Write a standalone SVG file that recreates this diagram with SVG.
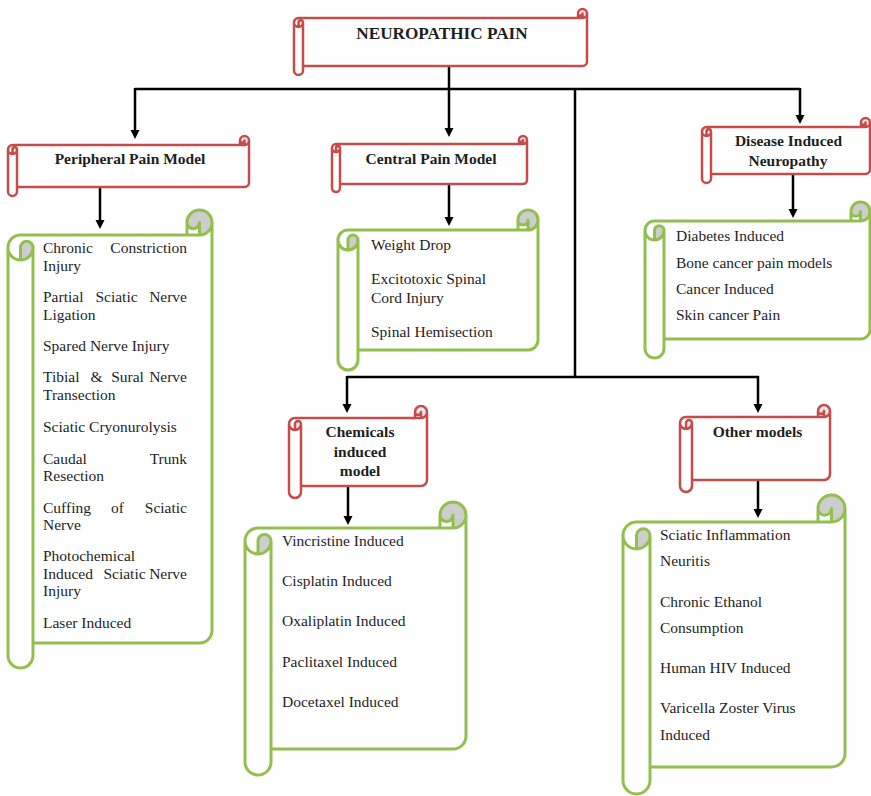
<svg xmlns="http://www.w3.org/2000/svg" width="871" height="796" viewBox="0 0 871 796">
<style>
.bg{fill:#ffffff}
.fw{fill:#ffffff;stroke:none}
.grr{fill:#f2e6e6;stroke:none}
.grg{fill:#cdcdcd;stroke:none}
.sr{fill:none;stroke:#C64B4B;stroke-width:2.5;stroke-linejoin:round}
.sg{fill:none;stroke:#92BF4E;stroke-width:3;stroke-linejoin:round}
.conn{fill:none;stroke:#000000;stroke-width:2.5}
.h{font-family:"Liberation Serif","Times New Roman",serif;font-weight:bold;font-size:15.5px;fill:#1e1e1e;text-anchor:middle}
.t{font-family:"Liberation Serif","Times New Roman",serif;font-size:15.5px;fill:#1e1e1e}
.m{text-anchor:middle}
.e{text-anchor:end}
</style>
<defs>
<marker id="arr" markerUnits="userSpaceOnUse" markerWidth="10" markerHeight="10" refX="3" refY="4.5" orient="auto">
<path d="M0,0 L9,4.5 L0,9 Z" fill="#000000"/>
</marker>
</defs>
<rect class="bg" x="0" y="0" width="871" height="796"/>

<g id="connectors">
<path class="conn" d="M449,66 L449,131" marker-end="url(#arr)"/>
<path class="conn" d="M135,89 L800,89"/>
<path class="conn" d="M135,88 L135,133" marker-end="url(#arr)"/>
<path class="conn" d="M800,88 L800,118" marker-end="url(#arr)"/>
<path class="conn" d="M575,89 L575,377"/>
<path class="conn" d="M347,377 L759,377"/>
<path class="conn" d="M347,376 L347,407" marker-end="url(#arr)"/>
<path class="conn" d="M758,376 L758,407" marker-end="url(#arr)"/>
<path class="conn" d="M100,187 L100,223" marker-end="url(#arr)"/>
<path class="conn" d="M449,184 L449,220" marker-end="url(#arr)"/>
<path class="conn" d="M793,174 L793,212" marker-end="url(#arr)"/>
<path class="conn" d="M348,486 L348,519" marker-end="url(#arr)"/>
<path class="conn" d="M758,480 L758,512" marker-end="url(#arr)"/>
</g>

<g id="neuropathic-pain" transform="translate(294,9)">
<path class="fw" d="M0,13.5 A4.5,4.5 0 0 1 4.5,9 L284,9 L284,4.5 A4.5,4.5 0 0 1 293,4.5 L293,52.5 A4.5,4.5 0 0 1 288.5,57 L9,57 L9,61.5 A4.5,4.5 0 0 1 0,61.5 Z"/>
<path class="grr" d="M4.5,18 A4.5,4.5 0 0 0 9,13.5 A2.25,2.25 0 0 0 4.5,13.5 Z M288.5,9 A4.5,4.5 0 1 0 284,4.5 A2.25,2.25 0 0 0 288.5,4.5 Z"/>
<path class="sr" d="M0,13.5 A4.5,4.5 0 0 1 4.5,9 L284,9 L284,4.5 A4.5,4.5 0 0 1 293,4.5 L293,52.5 A4.5,4.5 0 0 1 288.5,57 L9,57 L9,61.5 A4.5,4.5 0 0 1 0,61.5 Z M284,9 L288.5,9 A4.5,4.5 0 0 0 293,4.5 M288.5,9 L288.5,4.5 A2.25,2.25 0 0 1 284,4.5 M4.5,18 L4.5,13.5 A2.25,2.25 0 0 1 9,13.5 A4.5,4.5 0 0 1 0,13.5 M9,13.5 L9,57"/>
<text class="h" x="148" y="29.5" style="font-size:17.2px">NEUROPATHIC PAIN</text>
</g>

<g id="peripheral-pain-model" transform="translate(8,136)">
<path class="fw" d="M0,13.5 A4.5,4.5 0 0 1 4.5,9 L232,9 L232,4.5 A4.5,4.5 0 0 1 241,4.5 L241,46.5 A4.5,4.5 0 0 1 236.5,51 L9,51 L9,55.5 A4.5,4.5 0 0 1 0,55.5 Z"/>
<path class="grr" d="M4.5,18 A4.5,4.5 0 0 0 9,13.5 A2.25,2.25 0 0 0 4.5,13.5 Z M236.5,9 A4.5,4.5 0 1 0 232,4.5 A2.25,2.25 0 0 0 236.5,4.5 Z"/>
<path class="sr" d="M0,13.5 A4.5,4.5 0 0 1 4.5,9 L232,9 L232,4.5 A4.5,4.5 0 0 1 241,4.5 L241,46.5 A4.5,4.5 0 0 1 236.5,51 L9,51 L9,55.5 A4.5,4.5 0 0 1 0,55.5 Z M232,9 L236.5,9 A4.5,4.5 0 0 0 241,4.5 M236.5,9 L236.5,4.5 A2.25,2.25 0 0 1 232,4.5 M4.5,18 L4.5,13.5 A2.25,2.25 0 0 1 9,13.5 A4.5,4.5 0 0 1 0,13.5 M9,13.5 L9,51"/>
<text class="h" x="122" y="28">Peripheral Pain Model</text>
</g>

<g id="central-pain-model" transform="translate(332,136)">
<path class="fw" d="M0,12 A4,4 0 0 1 4,8 L187,8 L187,4 A4,4 0 0 1 195,4 L195,44 A4,4 0 0 1 191,48 L8,48 L8,52 A4,4 0 0 1 0,52 Z"/>
<path class="grr" d="M4,16 A4,4 0 0 0 8,12 A2,2 0 0 0 4,12 Z M191,8 A4,4 0 1 0 187,4 A2,2 0 0 0 191,4 Z"/>
<path class="sr" d="M0,12 A4,4 0 0 1 4,8 L187,8 L187,4 A4,4 0 0 1 195,4 L195,44 A4,4 0 0 1 191,48 L8,48 L8,52 A4,4 0 0 1 0,52 Z M187,8 L191,8 A4,4 0 0 0 195,4 M191,8 L191,4 A2,2 0 0 1 187,4 M4,16 L4,12 A2,2 0 0 1 8,12 A4,4 0 0 1 0,12 M8,12 L8,48"/>
<text class="h" x="99" y="27.5">Central Pain Model</text>
</g>

<g id="disease-induced-neuropathy" transform="translate(702,118)">
<path class="fw" d="M0,13.5 A4.5,4.5 0 0 1 4.5,9 L159,9 L159,4.5 A4.5,4.5 0 0 1 168,4.5 L168,51.5 A4.5,4.5 0 0 1 163.5,56 L9,56 L9,60.5 A4.5,4.5 0 0 1 0,60.5 Z"/>
<path class="grr" d="M4.5,18 A4.5,4.5 0 0 0 9,13.5 A2.25,2.25 0 0 0 4.5,13.5 Z M163.5,9 A4.5,4.5 0 1 0 159,4.5 A2.25,2.25 0 0 0 163.5,4.5 Z"/>
<path class="sr" d="M0,13.5 A4.5,4.5 0 0 1 4.5,9 L159,9 L159,4.5 A4.5,4.5 0 0 1 168,4.5 L168,51.5 A4.5,4.5 0 0 1 163.5,56 L9,56 L9,60.5 A4.5,4.5 0 0 1 0,60.5 Z M159,9 L163.5,9 A4.5,4.5 0 0 0 168,4.5 M163.5,9 L163.5,4.5 A2.25,2.25 0 0 1 159,4.5 M4.5,18 L4.5,13.5 A2.25,2.25 0 0 1 9,13.5 A4.5,4.5 0 0 1 0,13.5 M9,13.5 L9,56"/>
<text class="h" x="86.5" y="28">Disease Induced</text>
<text class="h" x="86" y="48">Neuropathy</text>
</g>

<g id="chemicals-induced-model" transform="translate(289,406)">
<path class="fw" d="M0,18 A6,6 0 0 1 6,12 L126,12 L126,6 A6,6 0 0 1 138,6 L138,74 A6,6 0 0 1 132,80 L12,80 L12,86 A6,6 0 0 1 0,86 Z"/>
<path class="grr" d="M6,24 A6,6 0 0 0 12,18 A3,3 0 0 0 6,18 Z M132,12 A6,6 0 1 0 126,6 A3,3 0 0 0 132,6 Z"/>
<path class="sr" d="M0,18 A6,6 0 0 1 6,12 L126,12 L126,6 A6,6 0 0 1 138,6 L138,74 A6,6 0 0 1 132,80 L12,80 L12,86 A6,6 0 0 1 0,86 Z M126,12 L132,12 A6,6 0 0 0 138,6 M132,12 L132,6 A3,3 0 0 1 126,6 M6,24 L6,18 A3,3 0 0 1 12,18 A6,6 0 0 1 0,18 M12,18 L12,80"/>
<text class="h" x="71" y="31">Chemicals</text>
<text class="h" x="71" y="51">induced</text>
<text class="h" x="71" y="70">model</text>
</g>

<g id="other-models" transform="translate(680,405)">
<path class="fw" d="M0,18 A6,6 0 0 1 6,12 L138,12 L138,6 A6,6 0 0 1 150,6 L150,69 A6,6 0 0 1 144,75 L12,75 L12,81 A6,6 0 0 1 0,81 Z"/>
<path class="grr" d="M6,24 A6,6 0 0 0 12,18 A3,3 0 0 0 6,18 Z M144,12 A6,6 0 1 0 138,6 A3,3 0 0 0 144,6 Z"/>
<path class="sr" d="M0,18 A6,6 0 0 1 6,12 L138,12 L138,6 A6,6 0 0 1 150,6 L150,69 A6,6 0 0 1 144,75 L12,75 L12,81 A6,6 0 0 1 0,81 Z M138,12 L144,12 A6,6 0 0 0 150,6 M144,12 L144,6 A3,3 0 0 1 138,6 M6,24 L6,18 A3,3 0 0 1 12,18 A6,6 0 0 1 0,18 M12,18 L12,75"/>
<text class="h" x="77.5" y="31.5">Other models</text>
</g>

<g id="peripheral-list" transform="translate(8,210)">
<path class="fw" d="M0,37.5 A12.5,12.5 0 0 1 12.5,25 L179,25 L179,12.5 A12.5,12.5 0 0 1 204,12.5 L204,420.5 A12.5,12.5 0 0 1 191.5,433 L25,433 L25,445.5 A12.5,12.5 0 0 1 0,445.5 Z"/>
<path class="grg" d="M12.5,50 A12.5,12.5 0 0 0 25,37.5 A6.25,6.25 0 0 0 12.5,37.5 Z M191.5,25 A12.5,12.5 0 1 0 179,12.5 A6.25,6.25 0 0 0 191.5,12.5 Z"/>
<path class="sg" d="M0,37.5 A12.5,12.5 0 0 1 12.5,25 L179,25 L179,12.5 A12.5,12.5 0 0 1 204,12.5 L204,420.5 A12.5,12.5 0 0 1 191.5,433 L25,433 L25,445.5 A12.5,12.5 0 0 1 0,445.5 Z M179,25 L191.5,25 A12.5,12.5 0 0 0 204,12.5 M191.5,25 L191.5,12.5 A6.25,6.25 0 0 1 179,12.5 M12.5,50 L12.5,37.5 A6.25,6.25 0 0 1 25,37.5 A12.5,12.5 0 0 1 0,37.5 M25,37.5 L25,433"/>
</g>
<g id="peripheral-list-text" class="t">
<text x="43" y="253">Chronic</text><text class="e" x="187" y="253">Constriction</text>
<text x="43" y="271">Injury</text>
<text x="43" y="302">Partial</text><text class="m" x="116.5" y="302">Sciatic</text><text class="e" x="187" y="302">Nerve</text>
<text x="43" y="320">Ligation</text>
<text x="43" y="351">Spared Nerve Injury</text>
<text x="43" y="382">Tibial</text><text class="m" x="96.5" y="382">&amp;</text><text class="m" x="127.5" y="382">Sural</text><text class="e" x="187" y="382">Nerve</text>
<text x="43" y="399.5">Transection</text>
<text x="43" y="432">Sciatic Cryonurolysis</text>
<text x="43" y="463.5">Caudal</text><text class="e" x="187" y="463.5">Trunk</text>
<text x="43" y="481">Resection</text>
<text x="43" y="513">Cuffing</text><text class="m" x="117.5" y="513">of</text><text class="e" x="187" y="513">Sciatic</text>
<text x="43" y="530">Nerve</text>
<text x="43" y="561">Photochemical</text>
<text x="43" y="579">Induced</text><text class="m" x="124.5" y="579">Sciatic</text><text class="e" x="187" y="579">Nerve</text>
<text x="43" y="596">Injury</text>
<text x="43" y="627.5">Laser Induced</text>
</g>

<g id="central-list" transform="translate(338,210)">
<path class="fw" d="M0,30 A10,10 0 0 1 10,20 L180,20 L180,10 A10,10 0 0 1 200,10 L200,130 A10,10 0 0 1 190,140 L20,140 L20,150 A10,10 0 0 1 0,150 Z"/>
<path class="grg" d="M10,40 A10,10 0 0 0 20,30 A5,5 0 0 0 10,30 Z M190,20 A10,10 0 1 0 180,10 A5,5 0 0 0 190,10 Z"/>
<path class="sg" d="M0,30 A10,10 0 0 1 10,20 L180,20 L180,10 A10,10 0 0 1 200,10 L200,130 A10,10 0 0 1 190,140 L20,140 L20,150 A10,10 0 0 1 0,150 Z M180,20 L190,20 A10,10 0 0 0 200,10 M190,20 L190,10 A5,5 0 0 1 180,10 M10,40 L10,30 A5,5 0 0 1 20,30 A10,10 0 0 1 0,30 M20,30 L20,140"/>
</g>
<g id="central-list-text" class="t">
<text x="371" y="250">Weight Drop</text>
<text x="371" y="284">Excitotoxic Spinal</text>
<text x="371" y="303">Cord Injury</text>
<text x="371" y="337">Spinal Hemisection</text>
</g>

<g id="disease-list" transform="translate(645,202)">
<path class="fw" d="M0,28.5 A9.5,9.5 0 0 1 9.5,19 L206,19 L206,9.5 A9.5,9.5 0 0 1 225,9.5 L225,127.5 A9.5,9.5 0 0 1 215.5,137 L19,137 L19,146.5 A9.5,9.5 0 0 1 0,146.5 Z"/>
<path class="grg" d="M9.5,38 A9.5,9.5 0 0 0 19,28.5 A4.75,4.75 0 0 0 9.5,28.5 Z M215.5,19 A9.5,9.5 0 1 0 206,9.5 A4.75,4.75 0 0 0 215.5,9.5 Z"/>
<path class="sg" d="M0,28.5 A9.5,9.5 0 0 1 9.5,19 L206,19 L206,9.5 A9.5,9.5 0 0 1 225,9.5 L225,127.5 A9.5,9.5 0 0 1 215.5,137 L19,137 L19,146.5 A9.5,9.5 0 0 1 0,146.5 Z M206,19 L215.5,19 A9.5,9.5 0 0 0 225,9.5 M215.5,19 L215.5,9.5 A4.75,4.75 0 0 1 206,9.5 M9.5,38 L9.5,28.5 A4.75,4.75 0 0 1 19,28.5 A9.5,9.5 0 0 1 0,28.5 M19,28.5 L19,137"/>
</g>
<g id="disease-list-text" class="t">
<text x="676" y="241">Diabetes Induced</text>
<text x="676" y="267.5">Bone cancer pain models</text>
<text x="676" y="293.5">Cancer Induced</text>
<text x="676" y="319.5">Skin cancer Pain</text>
</g>

<g id="chemicals-list" transform="translate(245,502)">
<path class="fw" d="M0,39 A13,13 0 0 1 13,26 L195,26 L195,13 A13,13 0 0 1 221,13 L221,234 A13,13 0 0 1 208,247 L26,247 L26,260 A13,13 0 0 1 0,260 Z"/>
<path class="grg" d="M13,52 A13,13 0 0 0 26,39 A6.5,6.5 0 0 0 13,39 Z M208,26 A13,13 0 1 0 195,13 A6.5,6.5 0 0 0 208,13 Z"/>
<path class="sg" d="M0,39 A13,13 0 0 1 13,26 L195,26 L195,13 A13,13 0 0 1 221,13 L221,234 A13,13 0 0 1 208,247 L26,247 L26,260 A13,13 0 0 1 0,260 Z M195,26 L208,26 A13,13 0 0 0 221,13 M208,26 L208,13 A6.5,6.5 0 0 1 195,13 M13,52 L13,39 A6.5,6.5 0 0 1 26,39 A13,13 0 0 1 0,39 M26,39 L26,247"/>
</g>
<g id="chemicals-list-text" class="t">
<text x="282" y="546">Vincristine Induced</text>
<text x="282" y="586">Cisplatin Induced</text>
<text x="282" y="626">Oxaliplatin Induced</text>
<text x="282" y="666.5">Paclitaxel Induced</text>
<text x="282" y="706.5">Docetaxel Induced</text>
</g>

<g id="other-list" transform="translate(623,495)">
<path class="fw" d="M0,40.5 A13.5,13.5 0 0 1 13.5,27 L195,27 L195,13.5 A13.5,13.5 0 0 1 222,13.5 L222,258.5 A13.5,13.5 0 0 1 208.5,272 L27,272 L27,285.5 A13.5,13.5 0 0 1 0,285.5 Z"/>
<path class="grg" d="M13.5,54 A13.5,13.5 0 0 0 27,40.5 A6.75,6.75 0 0 0 13.5,40.5 Z M208.5,27 A13.5,13.5 0 1 0 195,13.5 A6.75,6.75 0 0 0 208.5,13.5 Z"/>
<path class="sg" d="M0,40.5 A13.5,13.5 0 0 1 13.5,27 L195,27 L195,13.5 A13.5,13.5 0 0 1 222,13.5 L222,258.5 A13.5,13.5 0 0 1 208.5,272 L27,272 L27,285.5 A13.5,13.5 0 0 1 0,285.5 Z M195,27 L208.5,27 A13.5,13.5 0 0 0 222,13.5 M208.5,27 L208.5,13.5 A6.75,6.75 0 0 1 195,13.5 M13.5,54 L13.5,40.5 A6.75,6.75 0 0 1 27,40.5 A13.5,13.5 0 0 1 0,40.5 M27,40.5 L27,272"/>
</g>
<g id="other-list-text" class="t">
<text x="660" y="540">Sciatic Inflammation</text>
<text x="660" y="566">Neuritis</text>
<text x="660" y="607">Chronic Ethanol</text>
<text x="660" y="633">Consumption</text>
<text x="660" y="673">Human HIV Induced</text>
<text x="660" y="713">Varicella Zoster Virus</text>
<text x="660" y="739.5">Induced</text>
</g>
</svg>
